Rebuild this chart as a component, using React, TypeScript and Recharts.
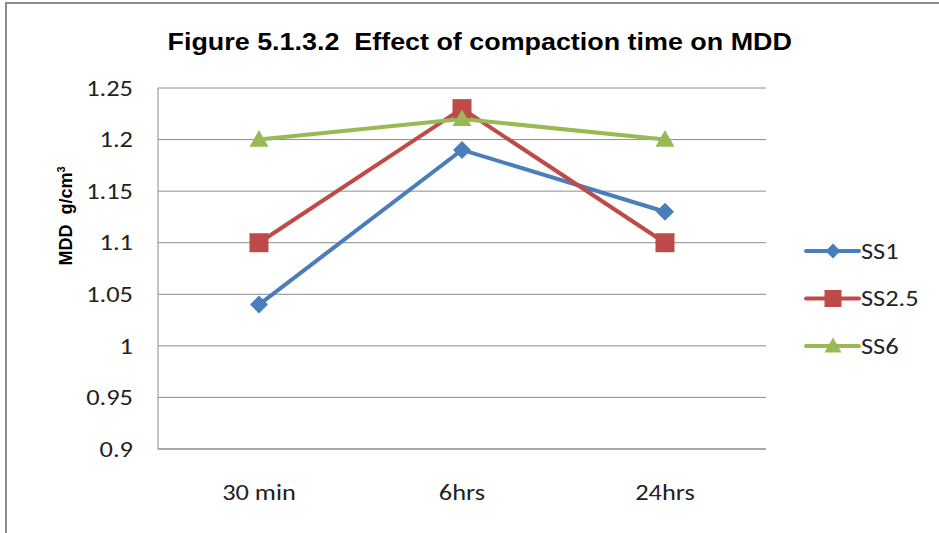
import React from "react";
import { LineChart, Line, XAxis, YAxis, CartesianGrid } from "recharts";

const categories = ["30 min", "6hrs", "24hrs"];
const ss1 = [1.04, 1.19, 1.13];
const ss25 = [1.1, 1.23, 1.1];
const ss6 = [1.2, 1.22, 1.2];
const yTicks = [0.9, 0.95, 1, 1.05, 1.1, 1.15, 1.2, 1.25];
const seriesNames = ["SS1", "SS2.5", "SS6"];

const data = categories.map((c, i) => ({ cat: c, SS1: ss1[i], "SS2.5": ss25[i], SS6: ss6[i] }));

const COLORS: Record<string, string> = { SS1: "#4A7EBB", "SS2.5": "#BE4B48", SS6: "#98B954" };
const FONT = "Calibri, Carlito, Lato, sans-serif";
const SX = 1.2;

const Diamond = (props: any) => {
  const { cx, cy, color, size = 9 } = props;
  if (cx == null || cy == null) return null;
  return <path d={`M${cx},${cy - size} L${cx + size},${cy} L${cx},${cy + size} L${cx - size},${cy} Z`} fill={color} />;
};
const Square = (props: any) => {
  const { cx, cy, color, size = 9.5 } = props;
  if (cx == null || cy == null) return null;
  return <rect x={cx - size} y={cy - size} width={size * 2} height={size * 2} fill={color} />;
};
const Triangle = (props: any) => {
  const { cx, cy, color, size = 9.5 } = props;
  if (cx == null || cy == null) return null;
  return <path d={`M${cx},${cy - size} L${cx + size},${cy + size * 0.75} L${cx - size},${cy + size * 0.75} Z`} fill={color} />;
};

const shapes: Record<string, any> = { SS1: Diamond, "SS2.5": Square, SS6: Triangle };
const legendSizes: Record<string, number> = { SS1: 7.5, "SS2.5": 8.5, SS6: 8.5 };

const fmt = (v: number) => String(Number(v.toFixed(2)));

const XTick = (props: any) => {
  const { x, y, payload } = props;
  return (
    <g transform={`translate(${x},${y}) scale(${SX},1)`}>
      <text x={0} y={0} dy="0.35em" textAnchor="middle" fontSize={22} fontFamily={FONT} fill="#222">{payload.value}</text>
    </g>
  );
};
const YTick = (props: any) => {
  const { x, y, payload } = props;
  return (
    <g transform={`translate(${x},${y}) scale(${SX},1)`}>
      <text x={0} y={0} dy="0.35em" textAnchor="end" fontSize={22} fontFamily={FONT} fill="#222">{fmt(payload.value)}</text>
    </g>
  );
};

const LegendBox = () => (
  <svg width={134} height={150} style={{ position: "absolute", left: 804, top: 228 }}>
    {seriesNames.map((name, i) => {
      const y = 23 + i * 47.5;
      const Shape = shapes[name];
      return (
        <g key={name}>
          <line x1={2} x2={55} y1={y} y2={y} stroke={COLORS[name]} strokeWidth={4} strokeLinecap="round" />
          <Shape cx={29} cy={y} color={COLORS[name]} size={legendSizes[name]} />
          <g transform={`translate(57,${y}) scale(${SX},1)`}>
            <text x={0} y={0} dy="0.35em" fontSize={22} fontFamily={FONT} fill="#222">{name}</text>
          </g>
        </g>
      );
    })}
  </svg>
);

export default function App() {
  return (
    <div style={{ position: "absolute", left: 0, top: 0, width: 939, height: 533, background: "#fff", overflow: "hidden" }}>
      <div style={{ position: "absolute", left: 5, top: 2, width: 960, height: 560, border: "2px solid #8c8c8c", boxSizing: "border-box" }} />
      <div style={{ position: "absolute", left: 0, top: 28, width: 960, textAlign: "center" }}>
        <div style={{ display: "inline-block", transform: "scaleX(1.12)", fontFamily: "Arial, 'Liberation Sans', sans-serif", fontWeight: "bold", fontSize: 24, color: "#000", whiteSpace: "nowrap" }}>
          Figure 5.1.3.2&nbsp; Effect of compaction time on MDD
        </div>
      </div>
      <div style={{ position: "absolute", left: 66, top: 216, transform: "translate(-50%, -50%) rotate(-90deg)", whiteSpace: "nowrap", fontFamily: "Arial, 'Liberation Sans', sans-serif", fontWeight: "bold", fontSize: 18, color: "#000" }}>
        MDD&nbsp; g/cm<sup style={{ fontSize: 11 }}>3</sup>
      </div>
      <div style={{ position: "absolute", left: 0, top: 0 }}>
        <LineChart width={939} height={533} data={data} margin={{ top: 88, right: 173, bottom: 0, left: 0 }}>
          <CartesianGrid vertical={false} stroke="#8c8c8c" strokeWidth={1} />
          <XAxis
            dataKey="cat"
            height={84}
            padding={{ left: 101, right: 101 }}
            axisLine={{ stroke: "#8c8c8c" }}
            tickLine={false}
            tickSize={0}
            tickMargin={43}
            tick={<XTick />}
          />
          <YAxis
            width={158}
            domain={[0.9, 1.25]}
            ticks={yTicks}
            axisLine={{ stroke: "#8c8c8c" }}
            tickLine={false}
            tickSize={0}
            tickMargin={25}
            interval={0}
            tick={<YTick />}
          />
          {seriesNames.map((name) => {
            const Shape = shapes[name];
            return (
              <Line
                key={name}
                dataKey={name}
                stroke={COLORS[name]}
                strokeWidth={4}
                isAnimationActive={false}
                dot={(p: any) => <Shape key={`${name}-${p.index}`} cx={p.cx} cy={p.cy} color={COLORS[name]} />}
                activeDot={false}
              />
            );
          })}
        </LineChart>
      </div>
      <LegendBox />
    </div>
  );
}
